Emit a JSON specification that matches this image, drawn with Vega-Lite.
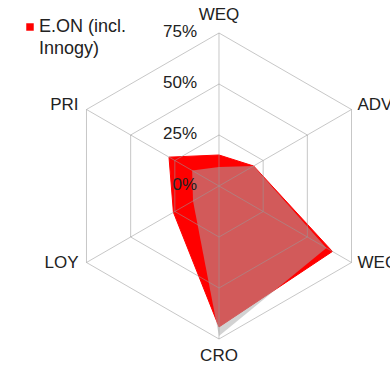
{
  "$schema": "https://vega.github.io/schema/vega-lite/v6.json",
  "width": 390,
  "height": 365,
  "autosize": {"type": "none"},
  "padding": 0,
  "background": "white",
  "config": {
    "view": {"stroke": null},
    "font": "Liberation Sans",
    "style": {"guide-label": {"lineHeight": 22}}
  },
  "datasets": {
    "scores": [
      {"series": "E.ON (incl. Innogy)", "axis": "WEQ", "value": 15.2},
      {"series": "E.ON (incl. Innogy)", "axis": "ADV", "value": 19.6},
      {"series": "E.ON (incl. Innogy)", "axis": "WEC", "value": 64.2},
      {"series": "E.ON (incl. Innogy)", "axis": "CRO", "value": 69.1},
      {"series": "E.ON (incl. Innogy)", "axis": "LOY", "value": 25.8},
      {"series": "E.ON (incl. Innogy)", "axis": "PRI", "value": 28.3},
      {"series": "Benchmark", "axis": "WEQ", "value": 9.3},
      {"series": "Benchmark", "axis": "ADV", "value": 19.6},
      {"series": "Benchmark", "axis": "WEC", "value": 60.8},
      {"series": "Benchmark", "axis": "CRO", "value": 73.5},
      {"series": "Benchmark", "axis": "LOY", "value": 14.7},
      {"series": "Benchmark", "axis": "PRI", "value": 15.2}
    ],
    "levels": [
      {"ring": 0, "axis": ["WEQ", "ADV", "WEC", "CRO", "LOY", "PRI"]},
      {"ring": 25, "axis": ["WEQ", "ADV", "WEC", "CRO", "LOY", "PRI"]},
      {"ring": 50, "axis": ["WEQ", "ADV", "WEC", "CRO", "LOY", "PRI"]},
      {"ring": 75, "axis": ["WEQ", "ADV", "WEC", "CRO", "LOY", "PRI"]}
    ]
  },
  "encoding": {
    "x": {"field": "px", "type": "quantitative", "scale": {"domain": [-107.353, 83.824], "nice": false, "zero": false}, "axis": null},
    "y": {"field": "py", "type": "quantitative", "scale": {"domain": [-87.745, 91.176], "nice": false, "zero": false}, "axis": null}
  },
  "layer": [
    {
      "data": {"name": "scores"},
      "transform": [
        {"filter": "datum.series === 'E.ON (incl. Innogy)'"},
        {"calculate": "indexof(['WEQ','ADV','WEC','CRO','LOY','PRI'], datum.axis)", "as": "idx"},
        {"calculate": "datum.value * sin(datum.idx * PI / 3)", "as": "px"},
        {"calculate": "datum.value * cos(datum.idx * PI / 3)", "as": "py"}
      ],
      "mark": {"type": "line", "interpolate": "linear-closed", "stroke": "#ff0000", "strokeWidth": 1},
      "encoding": {
        "order": {"field": "idx", "type": "quantitative"},
        "fill": {
          "field": "series", "type": "nominal",
          "scale": {"domain": ["E.ON (incl. Innogy)"], "range": ["#ff0000"]},
          "legend": {
            "title": null, "orient": "none", "legendX": 21, "legendY": 18,
            "padding": 0, "symbolType": "square", "symbolSize": 56, "symbolStrokeWidth": 0,
            "labelFont": "Liberation Sans", "labelFontSize": 18, "labelColor": "#222222",
            "labelOffset": 0, "labelLimit": 200,
            "labelExpr": "[slice(datum.label, 0, 11), slice(datum.label, 12)]"
          }
        }
      }
    },
    {
      "data": {"name": "scores"},
      "transform": [
        {"filter": "datum.series === 'Benchmark'"},
        {"calculate": "indexof(['WEQ','ADV','WEC','CRO','LOY','PRI'], datum.axis)", "as": "idx"},
        {"calculate": "datum.value * sin(datum.idx * PI / 3)", "as": "px"},
        {"calculate": "datum.value * cos(datum.idx * PI / 3)", "as": "py"}
      ],
      "mark": {"type": "line", "interpolate": "linear-closed", "fill": "#aaaaaa", "fillOpacity": 0.53, "strokeWidth": 0},
      "encoding": {"order": {"field": "idx", "type": "quantitative"}}
    },
    {
      "data": {"name": "levels"},
      "transform": [
        {"filter": "datum.ring > 0"},
        {"flatten": ["axis"]},
        {"calculate": "indexof(['WEQ','ADV','WEC','CRO','LOY','PRI'], datum.axis)", "as": "idx"},
        {"calculate": "datum.ring * sin(datum.idx * PI / 3)", "as": "px"},
        {"calculate": "datum.ring * cos(datum.idx * PI / 3)", "as": "py"}
      ],
      "mark": {"type": "line", "interpolate": "linear-closed", "stroke": "#999999", "strokeOpacity": 0.55, "strokeWidth": 1},
      "encoding": {
        "detail": {"field": "ring", "type": "quantitative"},
        "order": {"field": "idx", "type": "quantitative"}
      }
    },
    {
      "data": {"name": "levels"},
      "transform": [
        {"filter": "datum.ring === 75"},
        {"flatten": ["axis"]},
        {"calculate": "indexof(['WEQ','ADV','WEC','CRO','LOY','PRI'], datum.axis)", "as": "idx"},
        {"calculate": "datum.ring * sin(datum.idx * PI / 3)", "as": "px"},
        {"calculate": "datum.ring * cos(datum.idx * PI / 3)", "as": "py"}
      ],
      "mark": {"type": "rule", "stroke": "#999999", "strokeOpacity": 0.55, "strokeWidth": 1},
      "encoding": {
        "x2": {"datum": 0},
        "y2": {"datum": 0}
      }
    },
    {
      "data": {"name": "levels"},
      "transform": [
        {"calculate": "datum.ring + '%'", "as": "tick"},
        {"calculate": "0", "as": "px"},
        {"calculate": "datum.ring", "as": "py"}
      ],
      "mark": {"type": "text", "align": "right", "baseline": "middle", "dx": -22, "dy": -1, "fontSize": 17, "font": "Liberation Sans", "color": "#222222"},
      "encoding": {"text": {"field": "tick"}}
    },
    {
      "data": {"name": "levels"},
      "transform": [
        {"filter": "datum.ring === 75"},
        {"flatten": ["axis"]},
        {"calculate": "indexof(['WEQ','ADV','WEC','CRO','LOY','PRI'], datum.axis)", "as": "idx"},
        {"filter": "datum.idx === 0"},
        {"calculate": "datum.ring * sin(datum.idx * PI / 3)", "as": "px"},
        {"calculate": "datum.ring * cos(datum.idx * PI / 3)", "as": "py"}
      ],
      "mark": {"type": "text", "align": "center", "baseline": "middle", "dy": -18, "fontSize": 17, "font": "Liberation Sans", "color": "#222222"},
      "encoding": {"text": {"field": "axis"}}
    },
    {
      "data": {"name": "levels"},
      "transform": [
        {"filter": "datum.ring === 75"},
        {"flatten": ["axis"]},
        {"calculate": "indexof(['WEQ','ADV','WEC','CRO','LOY','PRI'], datum.axis)", "as": "idx"},
        {"filter": "datum.idx === 3"},
        {"calculate": "datum.ring * sin(datum.idx * PI / 3)", "as": "px"},
        {"calculate": "datum.ring * cos(datum.idx * PI / 3)", "as": "py"}
      ],
      "mark": {"type": "text", "align": "center", "baseline": "middle", "dy": 17, "fontSize": 17, "font": "Liberation Sans", "color": "#222222"},
      "encoding": {"text": {"field": "axis"}}
    },
    {
      "data": {"name": "levels"},
      "transform": [
        {"filter": "datum.ring === 75"},
        {"flatten": ["axis"]},
        {"calculate": "indexof(['WEQ','ADV','WEC','CRO','LOY','PRI'], datum.axis)", "as": "idx"},
        {"filter": "datum.idx === 1"},
        {"calculate": "datum.ring * sin(datum.idx * PI / 3)", "as": "px"},
        {"calculate": "datum.ring * cos(datum.idx * PI / 3)", "as": "py"}
      ],
      "mark": {"type": "text", "align": "left", "baseline": "middle", "dx": 6, "dy": -4, "fontSize": 17, "font": "Liberation Sans", "color": "#222222"},
      "encoding": {"text": {"field": "axis"}}
    },
    {
      "data": {"name": "levels"},
      "transform": [
        {"filter": "datum.ring === 75"},
        {"flatten": ["axis"]},
        {"calculate": "indexof(['WEQ','ADV','WEC','CRO','LOY','PRI'], datum.axis)", "as": "idx"},
        {"filter": "datum.idx === 2"},
        {"calculate": "datum.ring * sin(datum.idx * PI / 3)", "as": "px"},
        {"calculate": "datum.ring * cos(datum.idx * PI / 3)", "as": "py"}
      ],
      "mark": {"type": "text", "align": "left", "baseline": "middle", "dx": 6, "dy": 1, "fontSize": 17, "font": "Liberation Sans", "color": "#222222"},
      "encoding": {"text": {"field": "axis"}}
    },
    {
      "data": {"name": "levels"},
      "transform": [
        {"filter": "datum.ring === 75"},
        {"flatten": ["axis"]},
        {"calculate": "indexof(['WEQ','ADV','WEC','CRO','LOY','PRI'], datum.axis)", "as": "idx"},
        {"filter": "datum.idx === 4"},
        {"calculate": "datum.ring * sin(datum.idx * PI / 3)", "as": "px"},
        {"calculate": "datum.ring * cos(datum.idx * PI / 3)", "as": "py"}
      ],
      "mark": {"type": "text", "align": "right", "baseline": "middle", "dx": -8, "dy": 1, "fontSize": 17, "font": "Liberation Sans", "color": "#222222"},
      "encoding": {"text": {"field": "axis"}}
    },
    {
      "data": {"name": "levels"},
      "transform": [
        {"filter": "datum.ring === 75"},
        {"flatten": ["axis"]},
        {"calculate": "indexof(['WEQ','ADV','WEC','CRO','LOY','PRI'], datum.axis)", "as": "idx"},
        {"filter": "datum.idx === 5"},
        {"calculate": "datum.ring * sin(datum.idx * PI / 3)", "as": "px"},
        {"calculate": "datum.ring * cos(datum.idx * PI / 3)", "as": "py"}
      ],
      "mark": {"type": "text", "align": "right", "baseline": "middle", "dx": -8, "dy": -4, "fontSize": 17, "font": "Liberation Sans", "color": "#222222"},
      "encoding": {"text": {"field": "axis"}}
    }
  ]
}
